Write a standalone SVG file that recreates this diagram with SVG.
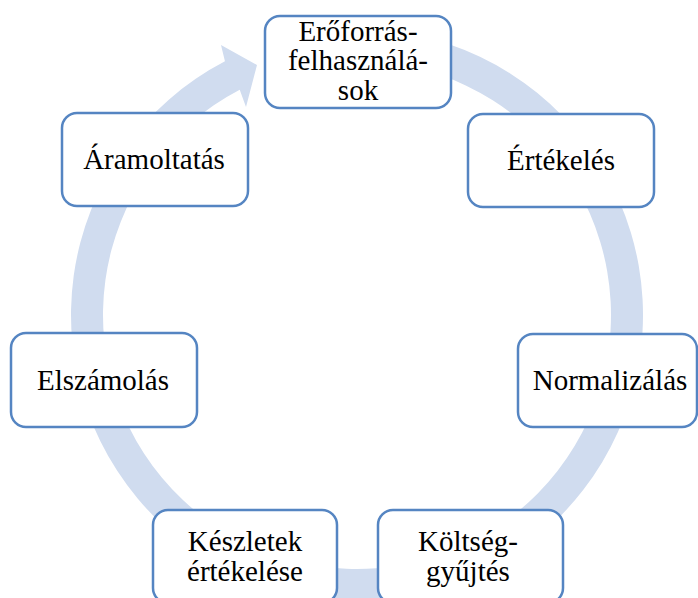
<svg xmlns="http://www.w3.org/2000/svg" width="698" height="598" viewBox="0 0 698 598">
  <style>
    .box { fill: #ffffff; stroke: #5585c2; stroke-width: 2.5; }
    .lbl { font-family: "Liberation Serif", "Times New Roman", "DejaVu Serif", serif; font-size: 29px; fill: #000000; text-anchor: middle; }
    .ring { fill: #d0dcef; stroke: none; }
  </style>

  <!-- circular arrow running clockwise behind the steps -->
  <g id="connectors">
    <path class="ring" d="M 381.93 30.09 A 286 286 0 1 1 224.94 61.32 L 221 45 L 257 65 L 246 107 L 239.72 89.70 A 254 254 0 1 0 379.14 61.97 Z"/>
  </g>

  <g font-family="Liberation Serif, Times New Roman, serif">
    <g id="node-eroforras">
      <rect class="box" x="265" y="16" width="186" height="92" rx="15"/>
      <text class="lbl" x="358" y="40.5">Erőforrás-</text>
      <text class="lbl" x="358" y="70">felhasználá-</text>
      <text class="lbl" x="358" y="99.5">sok</text>
    </g>

    <g id="node-ertekeles">
      <rect class="box" x="468" y="114" width="186" height="93" rx="15"/>
      <text class="lbl" x="561" y="170">Értékelés</text>
    </g>

    <g id="node-normalizalas">
      <rect class="box" x="518" y="334" width="179" height="93" rx="15"/>
      <text class="lbl" x="610" y="390">Normalizálás</text>
    </g>

    <g id="node-koltseggyujtes">
      <rect class="box" x="378" y="510" width="185" height="93" rx="15"/>
      <text class="lbl" x="468" y="550.5">Költség-</text>
      <text class="lbl" x="468" y="580.5">gyűjtés</text>
    </g>

    <g id="node-keszletek">
      <rect class="box" x="153" y="510" width="184" height="93" rx="15"/>
      <text class="lbl" x="245" y="550.5">Készletek</text>
      <text class="lbl" x="245" y="580.5">értékelése</text>
    </g>

    <g id="node-elszamolas">
      <rect class="box" x="11" y="333" width="186" height="94" rx="15"/>
      <text class="lbl" x="103" y="389.5">Elszámolás</text>
    </g>

    <g id="node-aramoltatas">
      <rect class="box" x="62" y="113" width="186" height="93" rx="15"/>
      <text class="lbl" x="154" y="169">Áramoltatás</text>
    </g>
  </g>
</svg>
